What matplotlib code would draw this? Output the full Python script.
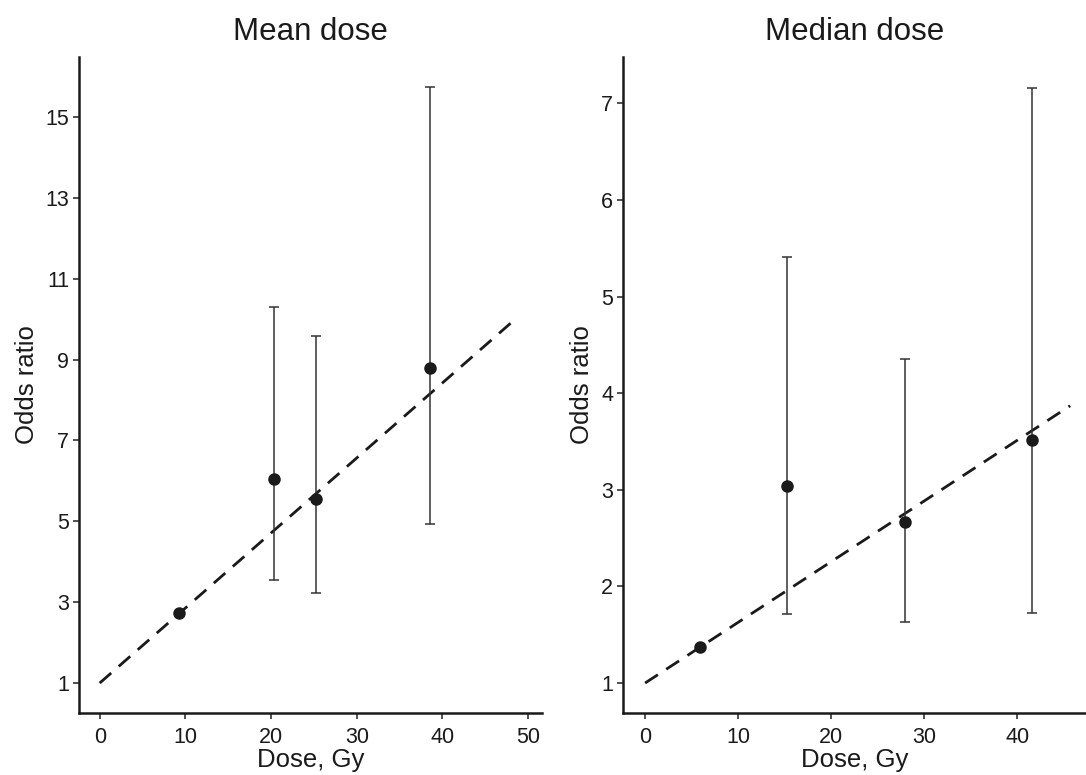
import numpy as np
import matplotlib
matplotlib.use("Agg")
import matplotlib.pyplot as plt

plt.rcParams["font.family"] = ["Liberation Sans", "DejaVu Sans"]

# data
mean_dose = [9.3, 20.3, 25.2, 38.5]
mean_or = [2.73, 6.04, 5.55, 8.80]
mean_lo = [np.nan, 3.54, 3.22, 4.93]
mean_hi = [np.nan, 10.31, 9.59, 15.73]
mean_fit = [[0, 48.5], [1.0, 10.0]]

median_dose = [5.9, 15.3, 27.9, 41.6]
median_or = [1.37, 3.04, 2.67, 3.52]
median_lo = [np.nan, 1.71, 1.63, 1.72]
median_hi = [np.nan, 5.41, 4.35, 7.16]
median_fit = [[0, 45.7], [1.0, 3.87]]

INK = "#1a1a1a"


def panel(ax, x, y, lo, hi, fit, title, xlim, ylim, yticks, xticks):
    x = np.array(x); y = np.array(y); lo = np.array(lo); hi = np.array(hi)
    ok = ~np.isnan(lo)
    ax.plot(fit[0], fit[1], ls=(0, (5.5, 3.6)), color=INK, lw=2.0, zorder=2)
    ax.errorbar(x[ok], y[ok], yerr=[y[ok] - lo[ok], hi[ok] - y[ok]], fmt="none",
                ecolor="#333333", elinewidth=1.1, capsize=3.5, capthick=1.1, zorder=3)
    ax.plot(x, y, "o", color=INK, ms=8, zorder=4)
    ax.set_xlim(*xlim)
    ax.set_ylim(*ylim)
    ax.set_xticks(xticks)
    ax.set_yticks(yticks)
    ax.set_title(title, fontsize=22.5, pad=12, color=INK)
    ax.set_xlabel("Dose, Gy", fontsize=18.5, labelpad=0, color=INK)
    ax.set_ylabel("Odds ratio", fontsize=18.5, labelpad=5, color=INK)
    for s in ["top", "right"]:
        ax.spines[s].set_visible(False)
    for s in ["left", "bottom"]:
        ax.spines[s].set_linewidth(1.8)
        ax.spines[s].set_color(INK)
    ax.tick_params(labelsize=15.5, length=4, width=1.2, pad=3, colors="#333333", labelcolor=INK)
    ax.tick_params(axis="x", pad=6)


fig = plt.figure(figsize=(10.86, 7.75), dpi=100)
ax1 = fig.add_axes([0.0727, 0.080, 0.4263, 0.8465])
ax2 = fig.add_axes([0.5737, 0.080, 0.4263, 0.8465])

panel(ax1, mean_dose, mean_or, mean_lo, mean_hi, mean_fit, "Mean dose",
      (-2.42, 51.6), (0.26, 16.48), [1, 3, 5, 7, 9, 11, 13, 15], [0, 10, 20, 30, 40, 50])
panel(ax2, median_dose, median_or, median_lo, median_hi, median_fit, "Median dose",
      (-2.37, 47.4), (0.69, 7.48), [1, 2, 3, 4, 5, 6, 7], [0, 10, 20, 30, 40])

fig.savefig("out.png", dpi=100)
